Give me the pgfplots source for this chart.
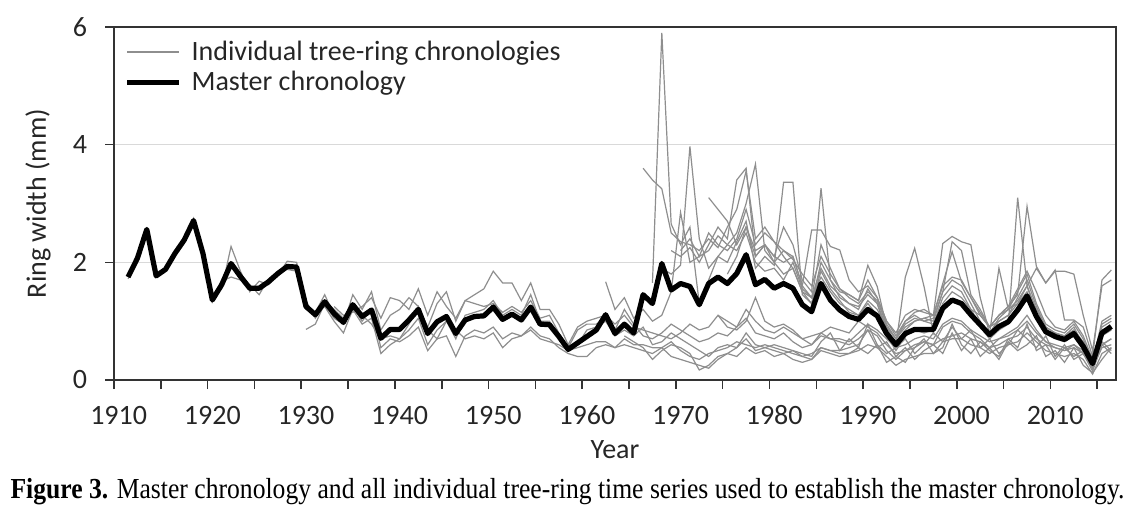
\documentclass[border=0pt]{standalone}
\usepackage{pgfplots}
\pgfplotsset{compat=1.18}
\usepackage{graphicx}
\usepackage{fontspec}
\setmainfont{Carlito}
\newfontfamily\capfont{Liberation Serif}
\definecolor{gcol}{HTML}{8E8E8E}
\definecolor{gridc}{HTML}{D9D9D9}
\definecolor{axc}{HTML}{333333}
\begin{document}
\begin{tikzpicture}
\path[use as bounding box] (-57pt,-65.5pt) rectangle (511pt,190pt);
\begin{axis}[
  at={(0,0)}, anchor=south west,
  scale only axis, width=501pt, height=176.5pt,
  xmin=1909.5, xmax=2016.5, ymin=0, ymax=6,
  xtick={1909.5,1914.5,...,2014.5}, xticklabels={},
  extra x ticks={1910,1920,1930,1940,1950,1960,1970,1980,1990,2000,2010},
  extra x tick labels={1910,1920,1930,1940,1950,1960,1970,1980,1990,2000,2010},
  extra x tick style={major tick length=0pt, grid=none},
  ytick={0,2,4,6},
  xtick pos=bottom, ytick pos=left,
  tick align=outside, major tick length=4.5pt,
  ymajorgrids=true, grid style={gridc, line width=0.6pt},
  axis line style={axc, line width=0.8pt},
  tick style={axc, line width=0.8pt},
  ticklabel style={font=\fontsize{14}{16}\selectfont, text=black!85},
  /pgf/number format/assume math mode=true,
  xticklabel style={anchor=base, yshift=-22pt},
  yticklabel style={anchor=center, xshift=-12.5pt},
  xlabel={Year}, ylabel={Ring width (mm)},
  label style={font=\fontsize{14}{16}\selectfont, text=black!85},
  xlabel style={at={(axis description cs:0.5,-0.198)}, anchor=center},
  ylabel style={at={(axis description cs:-0.0758,0.5)}, anchor=center},
  legend cell align=left,
  legend style={draw=none, fill=none, at={(0.004,0.985)}, anchor=north west,
    font=\fontsize{14}{16}\selectfont, text=black!85, row sep=0pt},
  legend image code/.code={\draw[#1] (0pt,0pt) -- (26pt,0pt); \path (0pt,0pt) (29pt,0pt);},
  clip=false,
]
% individual series
\addplot[gcol, line width=0.6pt] coordinates {(1911,1.72)(1912,2.05)(1913,2.52)(1914,1.80)(1915,1.85)(1916,2.18)(1917,2.33)(1918,2.65)(1919,2.10)(1920,1.40)(1921,1.55)(1922,2.27)(1923,1.85)(1924,1.50)(1925,1.68)(1926,1.62)(1927,1.78)(1928,2.02)(1929,2.00)(1930,1.35)(1931,1.05)(1932,1.30)(1933,1.20)};
\addlegendentry{Individual tree-ring chronologies}
\addplot[gcol, line width=0.6pt, forget plot] coordinates {(1914,1.75)(1915,1.90)(1916,2.12)(1917,2.42)(1918,2.75)(1919,2.20)(1920,1.33)(1921,1.68)(1922,1.75)(1923,1.70)(1924,1.62)(1925,1.45)(1926,1.72)(1927,1.85)(1928,1.88)(1929,1.85)(1930,1.20)(1931,1.15)(1932,1.45)(1933,1.10)(1934,0.95)(1935,1.25)(1936,1.00)};
% b1
\addplot[gcol, line width=0.6pt, forget plot] coordinates {(1930,0.86)(1931,0.95)(1932,1.30)(1933,1.05)(1934,0.95)(1935,1.45)(1936,1.20)(1937,1.50)(1938,0.85)(1939,1.10)(1940,1.20)(1941,1.40)(1942,1.25)(1943,0.90)(1944,1.30)(1945,1.50)(1946,1.00)(1947,1.35)(1948,1.45)(1949,1.55)(1950,1.85)(1951,1.65)(1952,1.65)(1953,1.35)(1954,1.65)(1955,1.20)(1956,1.20)(1957,0.95)(1958,0.60)(1959,0.90)(1960,1.00)(1961,1.05)(1962,1.10)(1963,0.95)(1964,1.10)(1965,0.90)(1966,0.85)(1967,0.80)(1968,0.75)(1969,0.70)(1970,0.80)(1971,0.95)(1972,0.85)(1973,0.90)(1974,1.10)(1975,0.90)(1976,0.85)(1977,1.00)(1978,1.40)(1979,1.00)(1980,0.90)(1981,0.95)(1982,0.85)(1983,0.70)(1984,0.75)(1985,0.80)(1986,0.90)(1987,0.85)(1988,0.80)(1989,1.00)(1990,0.90)(1991,0.80)(1992,0.60)(1993,0.45)(1994,0.50)(1995,0.55)(1996,0.65)(1997,0.60)(1998,0.70)(1999,0.75)(2000,0.80)(2001,0.70)(2002,0.65)(2003,0.55)(2004,0.60)(2005,0.70)(2006,0.75)(2007,0.90)(2008,0.70)(2009,0.60)(2010,0.55)(2011,0.50)(2012,0.55)(2013,0.45)(2014,0.20)(2015,0.55)(2016,0.60)};
% b2
\addplot[gcol, line width=0.6pt, forget plot] coordinates {(1931,1.10)(1932,1.25)(1933,1.00)(1934,0.80)(1935,1.20)(1936,0.95)(1937,1.05)(1938,0.45)(1939,0.60)(1940,0.70)(1941,0.85)(1942,1.05)(1943,0.60)(1944,0.85)(1945,1.00)(1946,0.70)(1947,1.10)(1948,1.15)(1949,1.20)(1950,1.35)(1951,1.10)(1952,1.20)(1953,1.10)(1954,1.45)(1955,1.00)(1956,1.00)(1957,0.75)(1958,0.50)(1959,0.60)(1960,0.85)(1961,0.90)(1962,1.00)(1963,0.75)(1964,0.85)(1965,0.75)(1966,0.90)(1967,0.60)(1968,0.65)(1969,0.80)(1970,0.70)(1971,0.60)(1972,0.50)(1973,0.40)(1974,0.55)(1975,0.60)(1976,0.55)(1977,0.80)(1978,0.60)(1979,0.55)(1980,0.60)(1981,0.55)(1982,0.50)(1983,0.45)(1984,0.40)(1985,0.65)(1986,0.80)(1987,0.50)(1988,0.70)(1989,0.55)(1990,0.95)(1991,0.60)(1992,0.45)(1993,0.55)(1994,0.70)(1995,0.45)(1996,0.60)(1997,0.80)(1998,0.65)(1999,0.90)(2000,0.70)(2001,0.85)(2002,0.55)(2003,0.70)(2004,0.45)(2005,0.60)(2006,0.85)(2007,0.70)(2008,0.55)(2009,0.75)(2010,0.40)(2011,0.60)(2012,0.35)(2013,0.45)(2014,0.20)(2015,0.65)(2016,0.50)};
% b3
\addplot[gcol, line width=0.6pt, forget plot] coordinates {(1932,1.35)(1933,1.20)(1934,1.05)(1935,1.30)(1936,1.00)(1937,1.20)(1938,0.55)(1939,0.70)(1940,0.65)(1941,0.75)(1942,0.90)(1943,0.50)(1944,0.70)(1945,0.75)(1946,0.40)(1947,0.75)(1948,0.85)(1949,0.80)(1950,0.90)(1951,0.70)(1952,0.80)(1953,0.75)(1954,0.90)(1955,0.75)(1956,0.70)(1957,0.55)(1958,0.45)(1959,0.40)(1960,0.40)(1961,0.55)(1962,0.60)(1963,0.55)(1964,0.60)(1965,0.55)(1966,0.50)(1967,0.45)(1968,0.55)(1969,0.40)(1970,0.35)(1971,0.30)(1972,0.25)(1973,0.20)(1974,0.35)(1975,0.45)(1976,0.40)(1977,0.55)(1978,0.45)(1979,0.50)(1980,0.40)(1981,0.45)(1982,0.35)(1983,0.30)(1984,0.35)(1985,0.50)(1986,0.45)(1987,0.40)(1988,0.45)(1989,0.55)(1990,0.45)(1991,0.60)(1992,0.30)(1993,0.40)(1994,0.55)(1995,0.35)(1996,0.50)(1997,0.60)(1998,0.45)(1999,0.80)(2000,0.50)(2001,0.70)(2002,0.40)(2003,0.55)(2004,0.35)(2005,0.65)(2006,0.50)(2007,0.60)(2008,0.75)(2009,0.40)(2010,0.50)(2011,0.30)(2012,0.55)(2013,0.25)(2014,0.12)(2015,0.35)(2016,0.55)};
% b4
\addplot[gcol, line width=0.6pt, forget plot] coordinates {(1933,1.25)(1934,1.10)(1935,1.15)(1936,1.25)(1937,1.40)(1938,1.05)(1939,1.40)(1940,1.35)(1941,1.20)(1942,1.55)(1943,1.10)(1944,1.50)(1945,1.25)(1946,1.05)(1947,1.35)(1948,1.30)(1949,1.25)(1950,1.30)(1951,1.15)(1952,1.25)(1953,1.15)(1954,1.35)(1955,1.05)(1956,1.10)(1957,0.80)(1958,0.55)(1959,0.85)(1960,0.95)(1961,0.95)(1962,1.05)(1963,0.85)(1964,1.20)(1965,0.95)(1966,0.75)(1967,0.70)(1968,0.80)(1969,0.95)(1970,0.85)(1971,0.75)(1972,0.65)(1973,0.70)(1974,0.80)(1975,0.75)(1976,0.90)(1977,1.05)(1978,0.80)(1979,0.75)(1980,0.70)(1981,0.80)(1982,0.65)(1983,0.55)(1984,0.60)(1985,0.75)(1986,0.70)(1987,0.70)(1988,0.65)(1989,0.80)(1990,0.95)(1991,0.85)(1992,0.70)(1993,0.55)(1994,0.60)(1995,0.70)(1996,0.75)(1997,0.70)(1998,0.95)(1999,1.05)(2000,1.00)(2001,0.85)(2002,0.75)(2003,0.65)(2004,0.70)(2005,0.75)(2006,0.85)(2007,1.00)(2008,0.80)(2009,0.65)(2010,0.60)(2011,0.55)(2012,0.60)(2013,0.50)(2014,0.25)(2015,0.60)(2016,0.70)};
% b5
\addplot[gcol, line width=0.6pt, forget plot] coordinates {(1936,1.10)(1937,0.95)(1938,0.70)(1939,0.75)(1940,0.70)(1941,0.95)(1942,1.25)(1943,0.85)(1944,0.70)(1945,1.00)(1946,0.85)(1947,0.70)(1948,0.75)(1949,0.70)(1950,0.80)(1951,0.55)(1952,0.70)(1953,0.75)(1954,0.85)(1955,0.70)(1956,0.65)(1957,0.60)(1958,0.50)(1959,0.55)(1960,0.60)(1961,0.65)(1962,0.65)(1963,0.55)(1964,0.70)(1965,0.60)(1966,0.60)(1967,0.55)(1968,0.55)(1969,0.65)(1970,0.50)(1971,0.40)(1972,0.35)(1973,0.45)(1974,0.50)(1975,0.55)(1976,0.65)(1977,0.60)(1978,0.55)(1979,0.60)(1980,0.55)(1981,0.50)(1982,0.45)(1983,0.40)(1984,0.45)(1985,0.55)(1986,0.50)(1987,0.50)(1988,0.55)(1989,0.60)(1990,0.85)(1991,0.55)(1992,0.65)(1993,0.40)(1994,0.30)(1995,0.55)(1996,0.70)(1997,0.45)(1998,0.55)(1999,0.95)(2000,0.60)(2001,0.45)(2002,0.65)(2003,0.50)(2004,0.40)(2005,0.70)(2006,0.55)(2007,0.95)(2008,0.50)(2009,0.60)(2010,0.35)(2011,0.55)(2012,0.40)(2013,0.50)(2014,0.20)(2015,0.60)(2016,0.45)};
% c1
\addplot[gcol, line width=0.6pt, forget plot] coordinates {(1962,1.67)(1963,1.20)(1964,1.40)(1965,1.05)(1966,1.20)(1967,1.00)(1968,1.10)(1969,1.50)(1970,2.85)(1971,2.00)(1972,2.10)(1973,2.20)(1974,2.45)(1975,2.30)(1976,2.20)(1977,2.50)(1978,2.00)(1979,1.85)(1980,1.90)(1981,1.70)(1982,2.00)(1983,1.55)(1984,1.40)(1985,1.75)(1986,1.50)(1987,1.30)(1988,1.20)(1989,1.10)(1990,1.35)(1991,1.20)(1992,0.90)(1993,0.70)(1994,1.00)(1995,1.10)(1996,1.00)(1997,0.95)(1998,1.40)(1999,1.60)(2000,1.50)(2001,1.20)(2002,1.10)(2003,0.90)(2004,1.00)(2005,1.10)(2006,1.30)(2007,1.60)(2008,1.20)(2009,0.90)(2010,0.80)(2011,0.75)(2012,0.90)(2013,0.60)(2014,0.30)(2015,0.90)(2016,1.00)};
% c2
\addplot[gcol, line width=0.6pt, forget plot] coordinates {(1966,3.60)(1967,3.40)(1968,3.25)(1969,2.50)(1970,2.35)(1971,2.30)(1972,2.20)(1973,2.40)(1974,2.25)(1975,2.60)(1976,2.90)(1977,3.55)(1978,2.40)(1979,2.60)(1980,2.35)(1981,2.20)(1982,2.05)(1983,1.80)(1984,1.60)(1985,2.10)(1986,1.80)(1987,1.55)(1988,1.40)(1989,1.30)(1990,1.50)(1991,1.35)(1992,0.95)(1993,0.70)(1994,0.90)(1995,1.00)(1996,1.05)(1997,1.00)(1998,1.50)(1999,1.70)(2000,1.60)(2001,1.30)(2002,1.00)(2003,0.80)(2004,1.00)(2005,1.10)(2006,1.40)(2007,1.70)(2008,1.25)(2009,0.90)(2010,0.80)(2011,0.75)(2012,0.85)(2013,0.65)(2014,0.35)(2015,0.85)(2016,0.90)};
% c3
\addplot[gcol, line width=0.6pt, forget plot] coordinates {(1967,1.65)(1968,5.90)(1969,2.65)(1970,2.30)(1971,2.60)(1972,1.30)(1973,1.70)(1974,2.10)(1975,2.00)(1976,2.35)(1977,2.70)(1978,1.90)(1979,2.10)(1980,1.95)(1981,3.36)(1982,3.36)(1983,1.45)(1984,1.30)(1985,2.00)(1986,1.70)(1987,1.50)(1988,1.45)(1989,1.35)(1990,1.95)(1991,1.59)(1992,0.90)(1993,0.60)(1994,0.85)(1995,1.00)(1996,1.05)(1997,1.10)(1998,2.32)(1999,2.44)(2000,2.35)(2001,2.30)(2002,1.40)(2003,0.79)(2004,1.05)(2005,1.20)(2006,1.50)(2007,1.80)(2008,1.30)(2009,0.95)(2010,0.85)(2011,0.80)(2012,0.95)(2013,0.70)(2014,0.30)(2015,1.00)(2016,1.10)};
% c4
\addplot[gcol, line width=0.6pt, forget plot] coordinates {(1968,1.90)(1969,1.80)(1970,1.95)(1971,3.97)(1972,2.40)(1973,1.90)(1974,2.10)(1975,2.30)(1976,2.50)(1977,3.00)(1978,3.67)(1979,2.20)(1980,2.00)(1981,1.80)(1982,1.90)(1983,1.50)(1984,1.30)(1985,1.85)(1986,1.55)(1987,1.35)(1988,1.15)(1989,1.10)(1990,1.30)(1991,1.10)(1992,0.75)(1993,0.50)(1994,0.75)(1995,0.85)(1996,0.80)(1997,0.85)(1998,1.20)(1999,1.35)(2000,1.30)(2001,1.10)(2002,0.90)(2003,0.70)(2004,0.85)(2005,0.95)(2006,3.10)(2007,1.60)(2008,1.10)(2009,0.80)(2010,0.70)(2011,0.65)(2012,0.75)(2013,0.55)(2014,0.25)(2015,0.75)(2016,0.85)};
% c5
\addplot[gcol, line width=0.6pt, forget plot] coordinates {(1969,2.20)(1970,2.10)(1971,2.25)(1972,2.00)(1973,2.30)(1974,2.60)(1975,2.40)(1976,3.40)(1977,3.60)(1978,2.10)(1979,2.30)(1980,2.10)(1981,2.00)(1982,2.10)(1983,1.60)(1984,2.55)(1985,2.55)(1986,2.27)(1987,2.21)(1988,1.70)(1989,1.50)(1990,1.60)(1991,1.40)(1992,1.00)(1993,0.80)(1994,1.10)(1995,1.20)(1996,1.15)(1997,1.10)(1998,1.64)(1999,2.18)(2000,1.67)(2001,1.40)(2002,1.15)(2003,0.90)(2004,1.10)(2005,1.25)(2006,1.45)(2007,2.95)(2008,1.93)(2009,1.65)(2010,1.87)(2011,1.02)(2012,1.02)(2013,0.90)(2014,0.40)(2015,1.70)(2016,1.87)};
% c6
\addplot[gcol, line width=0.6pt, forget plot] coordinates {(1973,3.10)(1974,2.90)(1975,2.70)(1976,2.30)(1977,2.60)(1978,2.20)(1979,2.30)(1980,2.10)(1981,2.60)(1982,2.30)(1983,1.70)(1984,1.50)(1985,3.26)(1986,1.70)(1987,1.40)(1988,1.30)(1989,1.20)(1990,1.55)(1991,1.30)(1992,0.80)(1993,0.60)(1994,1.75)(1995,2.24)(1996,1.59)(1997,0.80)(1998,1.30)(1999,1.50)(2000,1.40)(2001,1.20)(2002,0.95)(2003,0.80)(2004,1.90)(2005,1.20)(2006,1.30)(2007,1.50)(2008,1.10)(2009,0.85)(2010,0.75)(2011,0.70)(2012,0.85)(2013,0.60)(2014,0.30)(2015,0.80)(2016,0.90)};
% c7
\addplot[gcol, line width=0.6pt, forget plot] coordinates {(1974,1.10)(1975,1.00)(1976,0.90)(1977,1.20)(1978,1.00)(1979,0.85)(1980,0.80)(1981,0.90)(1982,0.80)(1983,0.70)(1984,0.60)(1985,0.80)(1986,0.70)(1987,0.65)(1988,0.60)(1989,0.70)(1990,0.85)(1991,0.75)(1992,0.50)(1993,0.35)(1994,0.50)(1995,0.60)(1996,0.65)(1997,0.60)(1998,0.90)(1999,1.00)(2000,0.95)(2001,0.80)(2002,0.70)(2003,0.55)(2004,0.70)(2005,0.80)(2006,0.90)(2007,1.10)(2008,0.85)(2009,0.65)(2010,0.55)(2011,0.50)(2012,0.60)(2013,0.45)(2014,0.15)(2015,0.60)(2016,0.70)};
% c8
\addplot[gcol, line width=0.6pt, forget plot] coordinates {(1975,1.80)(1976,2.10)(1977,2.60)(1978,2.10)(1979,2.30)(1980,2.00)(1981,2.20)(1982,2.10)(1983,1.60)(1984,1.40)(1985,1.90)(1986,1.60)(1987,1.45)(1988,1.30)(1989,1.25)(1990,1.45)(1991,1.30)(1992,0.90)(1993,0.70)(1994,0.95)(1995,1.05)(1996,1.00)(1997,1.05)(1998,1.50)(1999,2.35)(2000,2.20)(2001,1.45)(2002,1.20)(2003,0.90)(2004,1.10)(2005,1.20)(2006,1.35)(2007,1.60)(2008,1.90)(2009,1.65)(2010,1.85)(2011,1.85)(2012,1.80)(2013,1.10)(2014,0.50)(2015,1.60)(2016,1.70)};
% c9
\addplot[gcol, line width=0.6pt, forget plot] coordinates {(1964,0.75)(1965,0.65)(1966,0.55)(1967,0.35)(1968,0.50)(1969,0.60)(1970,0.55)(1971,0.45)(1972,0.17)(1973,0.25)(1974,0.40)(1975,0.45)(1976,0.55)(1977,0.70)(1978,0.50)(1979,0.55)(1980,0.50)(1981,0.45)(1982,0.50)(1983,0.40)(1984,0.35)(1985,0.55)(1986,0.50)(1987,0.45)(1988,0.45)(1989,0.50)(1990,0.60)(1991,0.55)(1992,0.40)(1993,0.25)(1994,0.35)(1995,0.40)(1996,0.45)(1997,0.45)(1998,0.65)(1999,0.70)(2000,0.70)(2001,0.60)(2002,0.55)(2003,0.45)(2004,0.55)(2005,0.60)(2006,0.65)(2007,0.80)(2008,0.65)(2009,0.50)(2010,0.45)(2011,0.40)(2012,0.45)(2013,0.35)(2014,0.10)(2015,0.45)(2016,0.55)};
% c10
\addplot[gcol, line width=0.6pt, forget plot] coordinates {(1970,2.20)(1971,2.40)(1972,2.10)(1973,2.50)(1974,2.30)(1975,2.20)(1976,2.40)(1977,2.90)(1978,2.30)(1979,2.50)(1980,2.35)(1981,2.10)(1982,1.90)(1983,1.50)(1984,1.40)(1985,2.30)(1986,1.90)(1987,1.55)(1988,1.45)(1989,1.35)(1990,1.70)(1991,1.40)(1992,1.00)(1993,0.75)(1994,1.00)(1995,1.15)(1996,1.20)(1997,1.10)(1998,1.60)(1999,1.75)(2000,1.70)(2001,1.40)(2002,1.10)(2003,0.90)(2004,1.10)(2005,1.25)(2006,1.55)(2007,1.85)(2008,1.50)(2009,1.10)(2010,0.90)(2011,0.85)(2012,1.00)(2013,0.75)(2014,0.35)(2015,0.95)(2016,1.05)};
% master
\addplot[black, line width=2.6pt, line join=round] coordinates {(1911,1.75)(1912,2.07)(1913,2.56)(1914,1.77)(1915,1.88)(1916,2.15)(1917,2.38)(1918,2.71)(1919,2.15)(1920,1.36)(1921,1.62)(1922,1.98)(1923,1.76)(1924,1.56)(1925,1.56)(1926,1.67)(1927,1.81)(1928,1.93)(1929,1.92)(1930,1.25)(1931,1.11)(1932,1.33)(1933,1.13)(1934,0.98)(1935,1.28)(1936,1.08)(1937,1.19)(1938,0.71)(1939,0.86)(1940,0.86)(1941,1.02)(1942,1.20)(1943,0.79)(1944,0.99)(1945,1.08)(1946,0.79)(1947,1.02)(1948,1.08)(1949,1.09)(1950,1.24)(1951,1.03)(1952,1.12)(1953,1.02)(1954,1.24)(1955,0.95)(1956,0.94)(1957,0.74)(1958,0.52)(1959,0.63)(1960,0.74)(1961,0.85)(1962,1.11)(1963,0.79)(1964,0.95)(1965,0.80)(1966,1.45)(1967,1.30)(1968,1.98)(1969,1.53)(1970,1.64)(1971,1.59)(1972,1.28)(1973,1.64)(1974,1.75)(1975,1.64)(1976,1.81)(1977,2.13)(1978,1.62)(1979,1.71)(1980,1.56)(1981,1.64)(1982,1.56)(1983,1.28)(1984,1.16)(1985,1.64)(1986,1.36)(1987,1.19)(1988,1.08)(1989,1.03)(1990,1.20)(1991,1.09)(1992,0.79)(1993,0.60)(1994,0.79)(1995,0.86)(1996,0.86)(1997,0.86)(1998,1.22)(1999,1.36)(2000,1.30)(2001,1.11)(2002,0.94)(2003,0.77)(2004,0.91)(2005,0.99)(2006,1.19)(2007,1.43)(2008,1.08)(2009,0.82)(2010,0.74)(2011,0.69)(2012,0.79)(2013,0.57)(2014,0.28)(2015,0.80)(2016,0.91)};
\addlegendentry{Master chronology}
\end{axis}
\node[anchor=center] at (226.75pt,-56pt) {\resizebox{557pt}{\height}{\capfont\fontsize{14.5}{16}\selectfont\textbf{Figure 3.} Master chronology and all individual tree-ring time series used to establish the master chronology.}};
\end{tikzpicture}
\end{document}
